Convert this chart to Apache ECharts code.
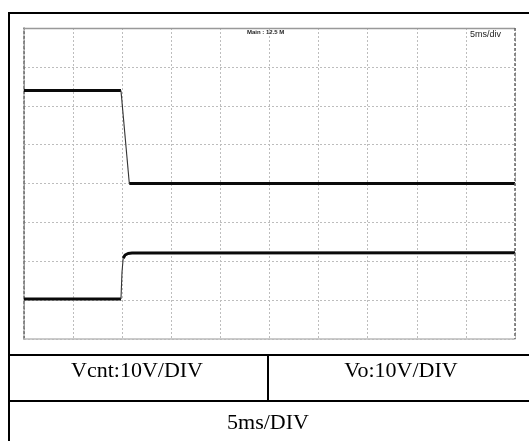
<!DOCTYPE html>
<html>
<head>
<meta charset="utf-8">
<style>html,body{margin:0;padding:0;background:#fff;}#c{width:529px;height:441px;}</style>
<script src="https://cdn.jsdelivr.net/npm/echarts@6/dist/echarts.min.js"></script>
</head>
<body>
<div id="c"></div>
<script>
// time in divisions (5 ms/div), amplitude in divisions (10 V/div)
var vcntTime = [0, 1.975, 2.145, 10];
var vcntVolt = [2.39, 2.39, 0.0, 0.0];
var voTime = [0, 1.975, 1.995, 2.02, 2.06, 2.12, 2.2, 10];
var voVolt = [-2.97, -2.97, -2.3, -1.92, -1.84, -1.8, -1.79, -1.78];
var xTicks = [0, 1, 2, 3, 4, 5, 6, 7, 8, 9, 10];
var yTicks = [-4, -3, -2, -1, 0, 1, 2, 3, 4];
var scopeLabel = 'Main : 12.5 M';
var timebaseLabel = '5ms/div';
var cellLabels = ['Vcnt:10V/DIV', 'Vo:10V/DIV', '5ms/DIV'];

function pts(t, v, a, b) {
  var out = [];
  for (var i = a; i <= b; i++) out.push([t[i], v[i]]);
  return out;
}
var thick = {color: '#0a0a0a', width: 3};
var thin = {color: '#333', width: 1.1};
function s(data, ls) {
  return {type: 'line', data: data, showSymbol: false, lineStyle: ls, animation: false, z: 5};
}
var chart = echarts.init(document.getElementById('c'));
var serif = '"Liberation Serif", "Times New Roman", serif';
chart.setOption({
  backgroundColor: '#fff',
  grid: {left: 24, top: 28, width: 491, height: 311, show: false},
  xAxis: {
    type: 'value', min: xTicks[0], max: xTicks[xTicks.length - 1], interval: 1,
    axisLine: {show: true, onZero: false, lineStyle: {color: '#bbb', width: 1.5}},
    axisTick: {show: false}, axisLabel: {show: false},
    splitLine: {show: true, lineStyle: {color: '#bdbdbd', type: [2, 2], width: 1}}
  },
  yAxis: {
    type: 'value', min: yTicks[0], max: yTicks[yTicks.length - 1], interval: 1,
    axisLine: {show: true, onZero: false, lineStyle: {color: '#666', type: [3, 2], width: 1.5}},
    axisTick: {show: false}, axisLabel: {show: false},
    splitLine: {show: true, lineStyle: {color: '#bdbdbd', type: [2, 2], width: 1}}
  },
  series: [
    s(pts(vcntTime, vcntVolt, 0, 1), thick),
    s(pts(vcntTime, vcntVolt, 1, 2), thin),
    s(pts(vcntTime, vcntVolt, 2, 3), thick),
    s(pts(voTime, voVolt, 0, 1), thick),
    s(pts(voTime, voVolt, 1, 3), thin),
    s(pts(voTime, voVolt, 3, 7), thick)
  ],
  graphic: [
    // scope frame top and right
    {type: 'line', shape: {x1: 24, y1: 28.5, x2: 515, y2: 28.5}, style: {stroke: '#999', lineWidth: 1.5}, z: 10},
    {type: 'line', shape: {x1: 515, y1: 28, x2: 515, y2: 339}, style: {stroke: '#666', lineWidth: 1.5, lineDash: [3, 2]}, z: 10},
    {type: 'text', left: 247, top: 29, style: {text: scopeLabel, font: 'bold 6px "Liberation Sans", Arial, sans-serif', fill: '#222'}, z: 10},
    {type: 'text', left: 470, top: 30, style: {text: timebaseLabel, font: '9px "Liberation Sans Narrow", "Liberation Sans", Arial, sans-serif', fill: '#222'}, z: 10},
    // table borders
    {type: 'line', shape: {x1: 8, y1: 13, x2: 529, y2: 13}, style: {stroke: '#000', lineWidth: 2}, z: 10},
    {type: 'line', shape: {x1: 9, y1: 12, x2: 9, y2: 441}, style: {stroke: '#000', lineWidth: 2}, z: 10},
    {type: 'line', shape: {x1: 8, y1: 355, x2: 529, y2: 355}, style: {stroke: '#000', lineWidth: 2}, z: 10},
    {type: 'line', shape: {x1: 268, y1: 355, x2: 268, y2: 401}, style: {stroke: '#000', lineWidth: 2}, z: 10},
    {type: 'line', shape: {x1: 8, y1: 401, x2: 529, y2: 401}, style: {stroke: '#000', lineWidth: 2}, z: 10},
    {type: 'text', x: 137, y: 371, style: {text: cellLabels[0], font: '22px ' + serif, fill: '#000', textAlign: 'center', textVerticalAlign: 'middle'}, z: 10},
    {type: 'text', x: 401, y: 371, style: {text: cellLabels[1], font: '22px ' + serif, fill: '#000', textAlign: 'center', textVerticalAlign: 'middle'}, z: 10},
    {type: 'text', x: 268, y: 423, style: {text: cellLabels[2], font: '22px ' + serif, fill: '#000', textAlign: 'center', textVerticalAlign: 'middle'}, z: 10}
  ]
});
</script>
</body>
</html>
